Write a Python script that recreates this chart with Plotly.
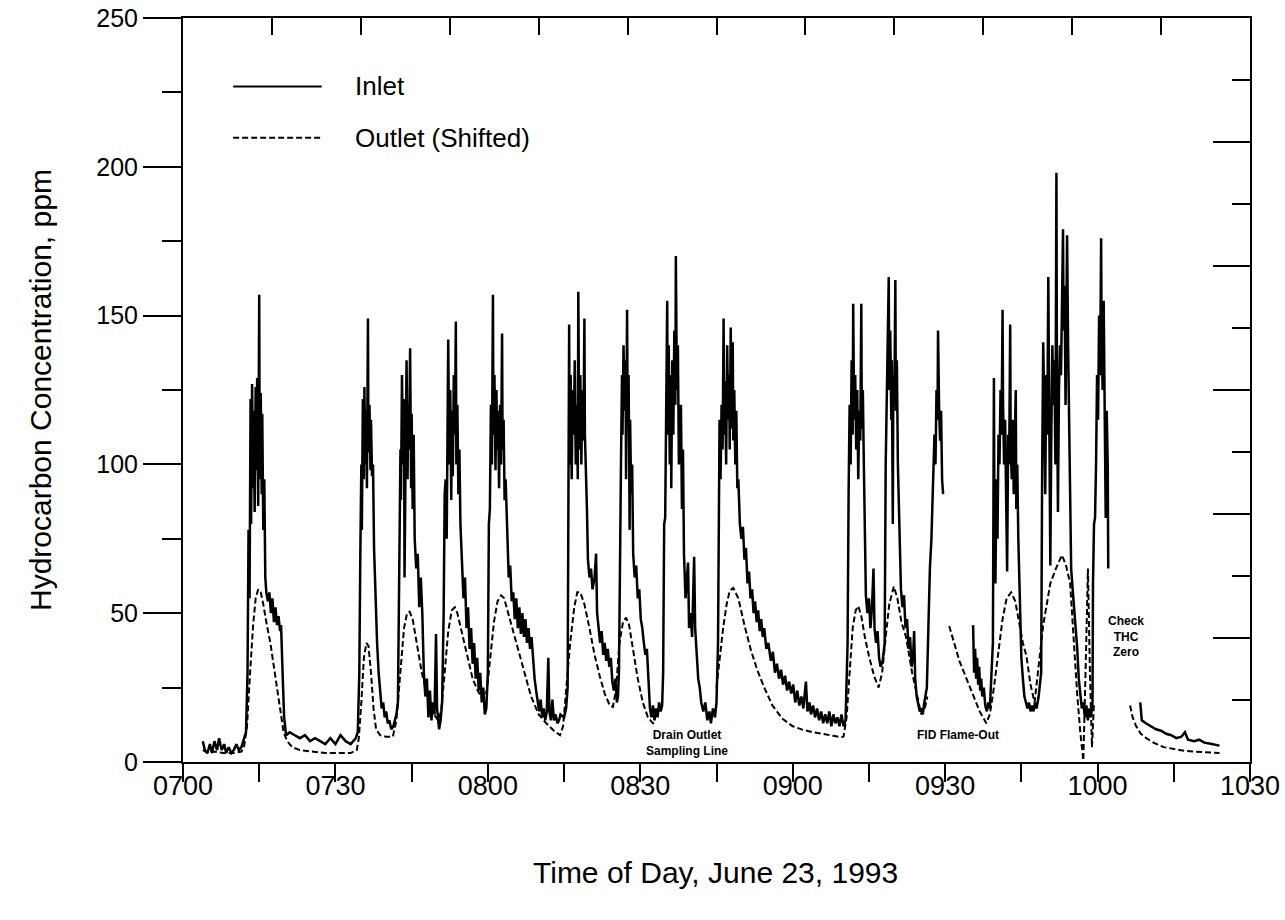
import plotly.graph_objects as go

# ---------------- data (minutes after 07:00, ppm) ----------------
x_tick_minutes = [0, 30, 60, 90, 120, 150, 180, 210]
x_tick_labels = ["0700", "0730", "0800", "0830", "0900", "0930", "1000", "1030"]
y_tick_values = [0, 50, 100, 150, 200, 250]

inlet_seg1 = [
    (3.9,7),(4.3,4),(4.8,3),(5.3,6),(5.7,3),(6.2,7),(6.7,4),(7.1,8),(7.6,4),(8.1,6),(8.5,3),(9.0,5),(9.5,3),(10.0,4),(10.5,6),(11.0,4),(11.5,5),(12.0,8),(12.4,10),
    (12.7,30),(12.9,78),(13.1,55),(13.3,122),(13.4,80),(13.6,127),(13.8,92),(13.9,118),(14.1,84),(14.3,126),(14.4,98),(14.6,129),(14.8,86),(14.9,112),(15.0,157),(15.1,95),(15.3,124),(15.5,90),(15.6,117),(15.8,78),(16.0,95),(16.2,62),(16.4,57),(16.7,54),(17.0,57),(17.3,50),(17.6,55),(17.9,47),(18.2,52),(18.5,46),(18.8,49),(19.1,44),(19.3,46),(19.6,30),(19.9,15),(20.3,9),
    (21,10),(22,9),(23,8),(24,9),(25,7),(26,8),(27,7),(28,6),(29,8),(30,6),(31,9),(32,7),(33,6),(34,8),
    (34.4,10),(34.7,30),(34.9,70),(35.1,100),(35.2,78),(35.4,122),(35.6,95),(35.7,126),(35.9,100),(36.1,118),(36.2,92),(36.4,149),(36.5,104),(36.7,120),(36.9,98),(37.0,115),(37.2,96),(37.4,100),(37.6,72),(37.9,55),(38.2,40),(38.5,30),(38.8,24),(39.1,18),(39.4,20),(39.7,15),(40.0,17),(40.3,13),(40.6,14),(41.0,11),(41.4,12),
    (42.0,16),(42.3,20),(42.6,60),(42.8,105),(42.9,88),(43.1,130),(43.3,100),(43.5,122),(43.6,62),(43.8,118),(44.0,135),(44.2,95),(44.3,120),(44.5,105),(44.7,139),(44.9,92),(45.0,117),(45.2,85),(45.4,110),(45.6,75),(45.9,65),(46.2,70),(46.5,52),(46.8,62),(47.1,50),(47.4,30),(47.7,22),(48.0,28),(48.3,15),(48.6,24),(48.9,14),(49.2,20),(49.5,16),(49.8,43),(50.0,18),(50.4,11),(50.7,14),
    (51.0,20),(51.3,50),(51.5,90),(51.7,95),(51.9,75),(52.1,120),(52.2,142),(52.4,100),(52.6,125),(52.8,88),(52.9,118),(53.1,96),(53.3,130),(53.5,110),(53.7,148),(53.8,100),(54.0,120),(54.2,90),(54.4,105),(54.6,80),(54.9,68),(55.2,55),(55.5,62),(55.8,45),(56.1,52),(56.4,38),(56.7,45),(57.0,33),(57.3,40),(57.6,28),(57.9,35),(58.2,24),(58.5,30),(58.8,20),(59.1,25),(59.4,16),(59.7,18),
    (60.0,30),(60.2,80),(60.4,85),(60.6,120),(60.8,100),(61.0,157),(61.1,110),(61.3,130),(61.5,98),(61.7,125),(61.8,105),(62.0,118),(62.2,92),(62.4,120),(62.6,100),(62.8,144),(62.9,105),(63.1,115),(63.3,88),(63.5,95),(63.8,75),(64.1,62),(64.4,66),(64.7,54),(65.0,57),(65.3,48),(65.6,55),(65.9,45),(66.2,52),(66.5,43),(66.8,50),(67.1,42),(67.4,48),(67.7,40),(68.0,45),(68.3,38),(68.6,42),(68.9,34),(69.2,28),(69.5,24),(69.8,20),(70.1,17),(70.4,21),(70.7,15),(71.0,18),(71.3,14),(71.6,17),(71.9,35),(72.1,17),(72.4,14),(72.7,21),(73.0,14),(73.3,16),(73.7,13),(74.0,14),(74.3,16),
    (75.0,15),(75.4,18),(75.7,25),(75.9,80),(76.0,147),(76.1,100),(76.3,130),(76.5,95),(76.7,125),(76.9,110),(77.1,135),(77.3,100),(77.5,120),(77.7,95),(77.8,158),(78.0,105),(78.2,130),(78.4,100),(78.6,125),(78.8,108),(79.0,149),(79.1,110),(79.3,100),(79.5,85),(79.7,68),(80.0,62),(80.3,65),(80.6,58),(81.0,62),(81.3,70),(81.5,50),(81.8,44),(82.1,40),(82.4,44),(82.7,36),(83.0,40),(83.3,34),(83.6,38),(83.9,32),(84.2,35),(84.5,27),(84.8,24),(85.1,28),(85.4,20),(85.6,22),
    (85.8,30),(86.0,75),(86.2,100),(86.4,130),(86.5,110),(86.7,140),(86.9,118),(87.1,135),(87.2,95),(87.4,152),(87.5,120),(87.7,130),(87.9,78),(88.0,115),(88.2,90),(88.4,100),(88.6,70),(88.9,62),(89.2,66),(89.5,55),(89.8,58),(90.1,48),(90.4,45),(90.7,40),(91.0,36),(91.3,38),(91.6,28),(91.9,18),(92.2,15),(92.5,19),(92.8,14),(93.1,18),(93.4,15),(93.7,20),(94.0,17),(94.3,19),
    (94.5,30),(94.7,80),(94.9,82),(95.1,120),(95.3,155),(95.4,110),(95.6,140),(95.8,100),(96.0,130),(96.1,92),(96.3,135),(96.5,110),(96.7,145),(96.9,120),(97.0,170),(97.2,125),(97.4,140),(97.6,100),(97.8,118),(98.0,120),(98.2,85),(98.4,105),(98.6,70),(98.9,55),(99.2,62),(99.4,67),(99.6,45),(99.9,50),(100.2,42),(100.6,69),(100.8,45),(101.1,35),(101.4,28),(101.7,25),(102.0,20),(102.4,17),(102.8,20),(103.2,14),(103.6,17),(103.9,13),(104.3,18),(104.7,15),(105.0,20),
    (105.3,40),(105.5,90),(105.6,115),(105.8,95),(106.0,120),(106.2,105),(106.4,149),(106.5,110),(106.7,128),(106.9,100),(107.1,140),(107.3,115),(107.5,130),(107.6,105),(107.8,146),(108.0,112),(108.2,141),(108.3,108),(108.5,125),(108.7,100),(108.9,118),(109.1,92),(109.3,95),(109.6,80),(109.9,75),(110.2,79),(110.5,68),(110.8,72),(111.1,60),(111.4,64),(111.7,55),(112.0,58),(112.3,50),(112.6,54),(112.9,47),(113.2,51),(113.5,44),(113.8,48),(114.1,42),(114.4,45),(114.8,38),(115.2,40),(115.7,34),(116.1,37),(116.5,30),(116.9,33),(117.3,28),(117.7,31),(118.1,26),(118.5,29),(118.9,24),(119.3,27),(119.7,23),(120.1,26),(120.5,20),(120.9,24),(121.3,19),(121.7,22),(122.1,18),(122.6,27),(122.9,17),(123.3,20),(123.6,16),(124.0,19),(124.4,15),(124.8,18),(125.2,14),(125.6,17),(126.0,13),(126.4,16),(126.8,13),(127.2,17),(127.6,12),(128.0,16),(128.4,13),(128.8,15),(129.2,12),(129.6,16),(130.0,12),(130.4,14),
    (130.8,40),(131.0,90),(131.2,120),(131.4,100),(131.6,135),(131.8,110),(131.9,154),(132.1,115),(132.3,130),(132.5,105),(132.7,125),(132.9,95),(133.1,118),(133.3,108),(133.5,154),(133.6,112),(133.8,125),(134.0,100),(134.2,80),(134.4,56),(134.7,50),(135.0,55),(135.3,45),(135.6,52),(135.9,65),(136.1,45),(136.4,40),(136.7,44),(137.0,35),(137.3,32),(137.7,34),
    (138.1,40),(138.3,100),(138.5,120),(138.7,140),(138.9,163),(139.0,125),(139.2,145),(139.4,115),(139.5,135),(139.7,80),(139.8,130),(140.0,120),(140.2,162),(140.3,118),(140.5,135),(140.7,100),(141.0,75),(141.3,58),(141.6,52),(141.9,56),(142.2,45),(142.5,48),(142.8,38),(143.1,42),(143.4,32),(143.7,36),(143.9,44),(144.1,28),(144.4,22),(144.7,19),(145.0,17),(145.3,18),(145.6,16),(145.9,20),
    (146.4,25),(146.7,45),(147.0,65),(147.3,75),(147.6,90),(147.9,110),(148.1,100),(148.3,125),(148.5,115),(148.6,145),(148.8,120),(149.0,108),(149.2,118),(149.4,95),(149.6,90),
]
inlet_seg2 = [
    (155.5,46),(155.7,30),(155.9,38),(156.1,28),(156.3,35),(156.5,26),(156.7,32),(156.9,24),(157.1,28),(157.3,22),(157.6,25),(157.9,19),(158.2,17),(158.5,20),(158.8,18),(159.0,25),
    (159.4,40),(159.6,129),(159.7,80),(159.9,60),(160.1,95),(160.3,75),(160.5,110),(160.7,100),(160.9,125),(161.1,110),(161.3,152),(161.4,120),(161.6,100),(161.8,115),(162.0,95),(162.2,64),(162.4,110),(162.6,100),(162.8,147),(162.9,108),(163.1,95),(163.3,115),(163.5,90),(163.7,105),(163.9,125),(164.0,85),(164.2,100),(164.4,75),(164.6,60),(164.8,45),(165.0,35),(165.3,28),(165.6,22),(165.9,20),(166.2,18),(166.5,20),(166.8,17),(167.1,19),(167.4,17),(167.7,20),(168.0,18),(168.4,22),
    (168.9,30),(169.1,100),(169.3,141),(169.5,120),(169.7,90),(169.9,130),(170.1,110),(170.3,163),(170.5,125),(170.7,66),(170.9,110),(171.1,140),(171.3,120),(171.5,135),(171.7,100),(171.9,198),(172.0,130),(172.2,84),(172.4,125),(172.6,140),(172.8,130),(173.0,150),(173.2,179),(173.3,145),(173.5,160),(173.7,120),(173.9,170),(174.0,177),(174.2,140),(174.4,110),(174.6,80),(174.8,65),(175.1,58),(175.4,52),(175.7,45),(176.0,38),(176.3,28),(176.6,22),(176.9,18),(177.2,20),(177.5,15),(177.8,19),(178.1,14),(178.4,18),(178.7,15),(179.0,20),
    (179.1,60),(179.3,80),(179.5,82),(179.7,100),(179.9,130),(180.1,115),(180.3,150),(180.5,130),(180.7,176),(180.8,140),(181.0,125),(181.2,155),(181.4,120),(181.6,82),(181.8,118),(182.0,100),(182.1,65),
]
inlet_seg3 = [
    (188.4,20),(188.7,14),(189.5,13),(190.5,12),(191.5,11),(192.5,10.5),(193.5,9.5),(194.5,9),(195.5,8),(196.5,8.5),(197.2,10),(197.8,7.5),(199,7),(200,7.5),(201,6.5),(202,6.2),(203,5.8),(204,5.5),
]

outlet_seg1 = [
    (3.9,4),(5,3),(6,3.5),(8,3),(10,3),(11.5,3.5),(12.0,5),(12.6,12),(13.2,30),(13.8,46),(14.3,55),(14.8,58),(15.3,57),(15.8,53),(16.5,46),(17.2,40),(17.8,33),(18.5,25),(19.2,16),(19.8,10),(20.5,7),(21.5,5),(23,4),(25,3.5),(28,3),(31,3),(33,3),(34.2,4),
    (34.6,8),(35.1,20),(35.6,35),(36.1,40),(36.5,39),(37.0,30),(37.5,18),(38.0,11),(38.8,9),(40,8.5),(41.3,8.5),
    (42.0,14),(42.8,30),(43.5,45),(44.1,50),(44.6,50.5),(45.2,48),(46.0,40),(47.0,30),(48.0,23),(49.0,17),(50.2,14),
    (50.8,17),(51.5,30),(52.2,44),(52.9,51),(53.5,52),(54.0,50),(55.0,43),(56.0,35),(57.0,28),(58.0,24),(59.0,21),
    (59.8,24),(60.5,35),(61.2,47),(61.9,54),(62.6,56),(63.2,55),(64.0,50),(65.5,40),(67.0,31),(68.5,22),(70.0,16),(71.5,13),(73.0,10.5),(74.2,9),
    (74.8,12),(75.5,25),(76.2,40),(77.0,52),(77.6,57),(78.2,57),(79.0,53),(80.0,45),(81.0,36),(82.0,29),(83.0,23),(84.0,19),(84.6,18.5),
    (85.2,24),(85.9,40),(86.6,47),(87.2,48.5),(87.8,46),(88.6,38),(89.5,28),(90.5,20),(91.5,15),(92.5,13),(93.0,13),
]
outlet_seg2 = [
    (105.0,25),(105.6,35),(106.3,45),(107.0,53),(107.6,57.5),(108.3,58.5),(109.3,55),(110.5,46),(111.7,38),(113.0,31),(114.4,25),(116.0,19),(118.0,14.5),(120,12),(122,10.8),(124,10),(126,9.3),(128,8.8),(129.4,8.4),(130.0,8.5),
    (130.6,15),(131.2,32),(131.8,45),(132.4,51),(132.9,52.4),(133.5,49),(134.2,42),(135.0,35.6),(136.0,29),(136.9,25),
    (137.6,30),(138.3,42),(139.0,53),(139.9,59),(140.6,55),(141.4,47),(142.3,42),(143.5,30),(144.7,20),(145.3,16),(146,18),(146.5,22),
]
outlet_seg3 = [
    (150.8,45.7),(151.8,40),(152.8,34),(154.2,28),(155.5,22.5),(156.8,17),(158.1,13),
    (158.8,16),(159.6,25),(160.5,38),(161.3,48),(162.1,55),(163.0,57),(163.8,54),(164.6,46),(165.3,40),(166.0,35.6),(166.8,26),(167.6,20),
    (168.3,30),(169.3,46),(170.7,60),(171.8,65),(173.0,69.5),(173.8,66),(174.6,60),(175.3,40),(176.0,22.5),(176.6,10),(177.2,0.5),(177.7,35),(178.1,65),(178.5,30),(178.9,5),(179.3,20),
]
outlet_seg4 = [
    (186.4,19),(186.9,15),(187.6,12),(188.5,9.5),(189.6,8),(191,6.5),(193,5),(195,4.3),(197,3.8),(199,3.5),(201,3.3),(204,3),
]

inlet_segments = [inlet_seg1, inlet_seg2, inlet_seg3]
outlet_segments = [outlet_seg1, outlet_seg2, outlet_seg3, outlet_seg4]


def join(segs):
    xs, ys = [], []
    for i, s in enumerate(segs):
        if i:
            xs.append(None)
            ys.append(None)
        xs += [p[0] for p in s]
        ys += [p[1] for p in s]
    return xs, ys


FONT = "Arial, 'Liberation Sans', sans-serif"
ix, iy = join(inlet_segments)
ox, oy = join(outlet_segments)

fig = go.Figure()
fig.add_trace(go.Scatter(x=ox, y=oy, mode="lines", name="Outlet (Shifted)",
                         line=dict(color="black", width=2, dash="6px,3px"), showlegend=False))
fig.add_trace(go.Scatter(x=ix, y=iy, mode="lines", name="Inlet",
                         line=dict(color="black", width=2.5), showlegend=False))
# empty trace to activate the mirrored frame axes
fig.add_trace(go.Scatter(x=[], y=[], xaxis="x2", yaxis="y2", showlegend=False, hoverinfo="skip"))

fig.update_layout(
    template="none",
    width=1285, height=920,
    margin=dict(l=183, r=35, t=18, b=158, pad=0),
    paper_bgcolor="white", plot_bgcolor="white",
    showlegend=False,
    font=dict(family=FONT, color="black", size=24),
    xaxis=dict(range=[0, 210], tickvals=x_tick_minutes, ticktext=x_tick_labels,
               ticks="outside", ticklen=18, tickwidth=2, tickcolor="black",
               minor=dict(dtick=15, tick0=0, ticks="outside", ticklen=18, tickwidth=2, tickcolor="black"),
               showline=True, linewidth=2, linecolor="black", showgrid=False, zeroline=False,
               automargin=False, ticklabelstandoff=-19,
               tickfont=dict(size=27)),
    yaxis=dict(range=[0, 250], tickvals=y_tick_values,
               ticks="outside", ticklen=38, tickwidth=2, tickcolor="black",
               minor=dict(dtick=25, tick0=0, ticks="outside", ticklen=19, tickwidth=2, tickcolor="black"),
               showline=True, linewidth=2, linecolor="black", showgrid=False, zeroline=False,
               automargin=False,
               tickfont=dict(size=25)),
    xaxis2=dict(overlaying="x", side="top", range=[0, 12], dtick=1, tick0=0,
                ticks="inside", ticklen=17, tickwidth=2, tickcolor="black",
                showticklabels=False, showline=True, linewidth=2, linecolor="black",
                showgrid=False, zeroline=False, automargin=False),
    yaxis2=dict(overlaying="y", side="right", range=[0, 12], dtick=2, tick0=0,
                ticks="inside", ticklen=37, tickwidth=2, tickcolor="black",
                minor=dict(dtick=1, tick0=0, ticks="inside", ticklen=18, tickwidth=2, tickcolor="black"),
                showticklabels=False, showline=True, linewidth=2, linecolor="black",
                showgrid=False, zeroline=False, automargin=False),
)

# legend drawn as sample lines + labels
fig.add_shape(type="line", xref="paper", yref="paper", x0=0.047, x1=0.130, y0=0.908, y1=0.908,
              line=dict(color="black", width=2))
fig.add_shape(type="line", xref="paper", yref="paper", x0=0.047, x1=0.130, y0=0.839, y1=0.839,
              line=dict(color="black", width=2, dash="6px,3px"))
fig.add_annotation(xref="paper", yref="paper", x=0.159, y=0.908, text="Inlet", showarrow=False,
                   xanchor="left", yanchor="middle", font=dict(size=26))
fig.add_annotation(xref="paper", yref="paper", x=0.159, y=0.839, text="Outlet (Shifted)", showarrow=False,
                   xanchor="left", yanchor="middle", font=dict(size=26))

# axis titles
fig.add_annotation(xref="paper", yref="paper", x=0.4986, y=-0.148, text="Time of Day, June 23, 1993",
                   showarrow=False, xanchor="center", yanchor="middle", font=dict(size=30))
fig.add_annotation(xref="paper", yref="paper", x=-0.134, y=0.5, text="Hydrocarbon Concentration, ppm",
                   showarrow=False, textangle=-90, xanchor="center", yanchor="middle", font=dict(size=30))

# in-plot notes
note_font = dict(family=FONT, size=12, color="black", weight="bold")
fig.add_annotation(x=99.2, y=6.5, text="Drain Outlet<br>Sampling Line", showarrow=False,
                   xanchor="center", yanchor="middle", font=note_font)
fig.add_annotation(x=152.6, y=9, text="FID Flame-Out", showarrow=False,
                   xanchor="center", yanchor="middle", font=note_font)
fig.add_annotation(x=185.6, y=42.3, text="Check<br>THC<br>Zero", showarrow=False,
                   xanchor="center", yanchor="middle", font=note_font)

fig.write_html("out.html")
